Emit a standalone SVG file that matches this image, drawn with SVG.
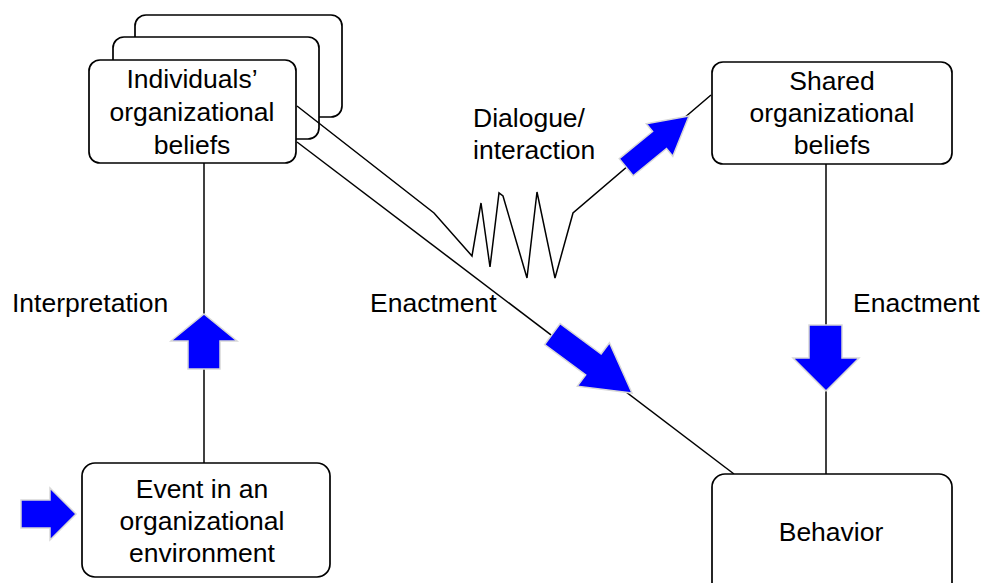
<svg xmlns="http://www.w3.org/2000/svg" width="982" height="583" viewBox="0 0 982 583">
  <style>
    .box { fill: #ffffff; stroke: #000000; stroke-width: 1.7; }
    .lbl { font-family: "Liberation Sans", Arial, sans-serif; font-size: 26.5px; fill: #000000; }
    .mid { text-anchor: middle; }
    .wire { fill: none; stroke: #000000; stroke-width: 1.5; stroke-linejoin: miter; }
    .flow { fill: #0000ff; stroke: #d8d8d8; stroke-width: 1.5; stroke-linejoin: miter; }
  </style>
  <rect x="0" y="0" width="982" height="583" fill="#ffffff"/>

  <!-- stacked cards: individual beliefs -->
  <g id="individual-beliefs">
    <rect class="box" x="135" y="15" width="207" height="102" rx="11"/>
    <rect class="box" x="113" y="37" width="206" height="102" rx="11"/>
  </g>

  <g id="connectors">
    <!-- interpretation: event up to individual beliefs -->
    <line class="wire" x1="204" y1="163" x2="204" y2="463"/>
    <!-- dialogue / interaction: zigzag into shared beliefs -->
    <polyline class="wire" points="297,106 434,213 472,256 481,203 490,267 499,193 503,196 527,278 537,192 555,278 573,213 711,95"/>
    <!-- enactment from individual beliefs to behavior -->
    <line class="wire" x1="297" y1="142" x2="734" y2="474"/>
    <!-- enactment from shared beliefs to behavior -->
    <line class="wire" x1="826" y1="164" x2="826" y2="474"/>

    <!-- block arrows -->
    <polygon class="flow" points="21,500 50,500 50,488 76,514 50,540 50,528 21,528"/>
    <polygon class="flow" points="188,369 188,341 171,341 204,314 237,341 220,341 220,369"/>
    <polygon class="flow" points="809,325 842,325 842,358 859,358 826,391 793,358 809,358"/>
    <polygon class="flow" transform="translate(632,393) rotate(36.5)" points="-99,-13 -48,-13 -48,-27 0,0 -48,27 -48,13 -99,13"/>
    <polygon class="flow" transform="translate(689,116) rotate(-39.2)" points="-81,-11 -38,-11 -38,-21 0,0 -38,21 -38,11 -81,11"/>
  </g>

  <g id="individual-beliefs-front">
    <rect class="box" x="89" y="60" width="207" height="103" rx="11"/>
    <text class="lbl mid" x="192" y="88">Individuals’</text>
    <text class="lbl mid" x="192" y="121">organizational</text>
    <text class="lbl mid" x="192" y="154">beliefs</text>
  </g>

  <g id="shared-beliefs">
    <rect class="box" x="712" y="62" width="240" height="102" rx="11"/>
    <text class="lbl mid" x="832" y="90">Shared</text>
    <text class="lbl mid" x="832" y="122">organizational</text>
    <text class="lbl mid" x="832" y="154">beliefs</text>
  </g>

  <g id="event">
    <rect class="box" x="82" y="463" width="248" height="114" rx="13"/>
    <text class="lbl mid" x="202" y="498">Event in an</text>
    <text class="lbl mid" x="202" y="530">organizational</text>
    <text class="lbl mid" x="202" y="562">environment</text>
  </g>

  <g id="behavior">
    <rect class="box" x="712" y="474" width="240" height="125" rx="13"/>
    <text class="lbl mid" x="831" y="541">Behavior</text>
  </g>

  <g id="labels">
    <text class="lbl" x="12" y="312">Interpretation</text>
    <text class="lbl" x="370" y="312">Enactment</text>
    <text class="lbl" x="853" y="312">Enactment</text>
    <text class="lbl" x="473" y="127">Dialogue/</text>
    <text class="lbl" x="473" y="159">interaction</text>
  </g>
</svg>
